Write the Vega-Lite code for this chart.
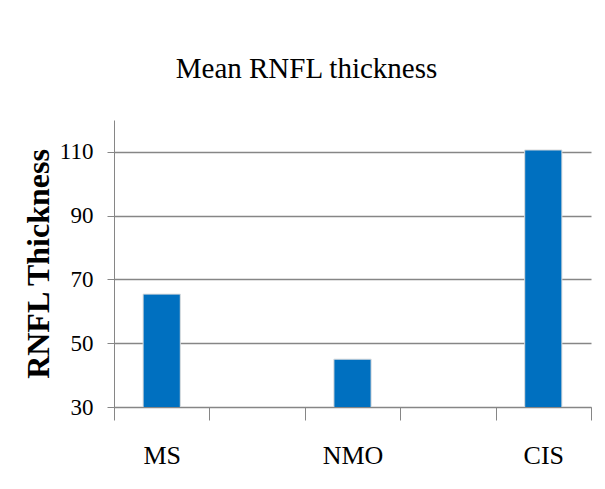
{
  "$schema": "https://vega.github.io/schema/vega-lite/v6.json",
  "autosize": {"type": "none"},
  "padding": {"left": 114, "top": 120, "right": 14, "bottom": 82},
  "width": 477,
  "height": 287,
  "background": "white",
  "title": {
    "text": "Mean RNFL thickness",
    "font": "Liberation Serif",
    "fontSize": 29,
    "fontWeight": "normal",
    "color": "#000000",
    "anchor": "middle",
    "frame": "group",
    "dx": -46,
    "offset": 36
  },
  "data": {
    "values": [
      {"group": "MS", "thickness": 65.4},
      {"group": "NMO", "thickness": 45.0},
      {"group": "CIS", "thickness": 110.6}
    ]
  },
  "mark": {"type": "bar", "color": "#0070C0", "stroke": "#dcdcdc", "strokeWidth": 1, "width": {"band": 0.39}, "clip": true},
  "encoding": {
    "x": {
      "field": "group",
      "type": "nominal",
      "sort": null,
      "scale": {"domain": ["MS", " ", "NMO", "  ", "CIS"], "paddingInner": 0, "paddingOuter": 0},
      "axis": {
        "title": null,
        "labelAngle": 0,
        "labelFont": "Liberation Serif",
        "labelFontSize": 26,
        "labelColor": "#000000",
        "labelPadding": 22,
        "tickBand": "extent",
        "tickSize": 13,
        "tickColor": "#868686",
        "domainColor": "#868686",
        "grid": false
      }
    },
    "y": {
      "field": "thickness",
      "type": "quantitative",
      "scale": {"domain": [30, 120], "nice": false, "zero": false},
      "axis": {
        "title": "RNFL Thickness",
        "titleFont": "Liberation Serif",
        "titleFontSize": 32,
        "titleFontWeight": "bold",
        "titleColor": "#000000",
        "titlePadding": 4,
        "values": [30, 50, 70, 90, 110],
        "labelFont": "Liberation Serif",
        "labelFontSize": 23,
        "labelColor": "#000000",
        "labelPadding": 14,
        "tickSize": 7,
        "tickColor": "#868686",
        "domainColor": "#868686",
        "grid": true,
        "gridColor": "#868686",
        "gridWidth": 1.3
      }
    }
  },
  "config": {"view": {"stroke": null}}
}
